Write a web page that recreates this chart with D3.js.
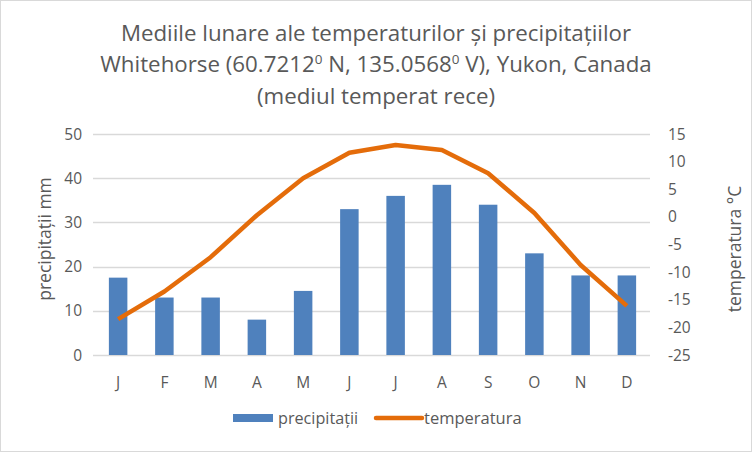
<!DOCTYPE html>
<html><head><meta charset="utf-8">
<script src="https://cdn.jsdelivr.net/npm/d3@7"></script>
<style>body{margin:0;background:#fff}svg{display:block}text{font-family:"Open Sans","Liberation Sans",Arial,sans-serif;fill:#595959}</style>
</head><body>
<script>
const months = ["J","F","M","A","M","J","J","A","S","O","N","D"];
const precipitation = [17.5,13,13,8,14.5,33,36,38.5,34,23,18,18];
const temperature = [-18.5,-13.5,-7.3,0.3,7,11.6,13,12.1,7.9,0.7,-8.7,-16.1];
const precTicks = [0,10,20,30,40,50];
const tempTicks = [15,10,5,0,-5,-10,-15,-20,-25];

const W=752,H=452;
const svg=d3.select("body").append("svg").attr("width",W).attr("height",H);
svg.append("rect").attr("x",0.5).attr("y",0.5).attr("width",W-1).attr("height",H-1).attr("fill","#fff").attr("stroke","#d9d9d9");

const L=95,R=650,T=134,B=355;
const x=d3.scaleBand().domain(d3.range(12)).range([L,R]).padding(0);
const yP=d3.scaleLinear().domain([0,50]).range([B,T]);
const yT=d3.scaleLinear().domain([-25,15]).range([B,T]);

// title
const title=svg.append("text").attr("text-anchor","middle").attr("font-size",22.3);
title.append("tspan").attr("x",376).attr("y",41).text("Mediile lunare ale temperaturilor și precipitațiilor");
const l2=title.append("tspan").attr("x",376).attr("y",72);
l2.append("tspan").text("Whitehorse (60.7212");
l2.append("tspan").attr("font-size",13.5).attr("dy",-8.5).text("0");
l2.append("tspan").attr("dy",8.5).text(" N, 135.0568");
l2.append("tspan").attr("font-size",13.5).attr("dy",-8.5).text("0");
l2.append("tspan").attr("dy",8.5).text(" V), Yukon, Canada");
title.append("tspan").attr("x",376).attr("y",104).text("(mediul temperat rece)");

// gridlines
svg.append("g").selectAll("line").data(precTicks).join("line")
  .attr("x1",L-2).attr("x2",R).attr("y1",d=>Math.round(yP(d))+0.5).attr("y2",d=>Math.round(yP(d))+0.5)
  .attr("stroke","#d9d9d9").attr("stroke-width",1.3);

// left axis labels
svg.append("g").selectAll("text").data(precTicks).join("text")
  .attr("x",82).attr("y",d=>yP(d)+5.5).attr("text-anchor","end").attr("font-size",15.5).text(d=>d);
// right axis labels
svg.append("g").selectAll("text").data(tempTicks).join("text")
  .attr("x",668).attr("y",d=>yT(d)+5.5).attr("text-anchor","start").attr("font-size",15.5).text(d=>d);
// x labels
svg.append("g").selectAll("text").data(months).join("text")
  .attr("x",(d,i)=>x(i)+x.bandwidth()/2).attr("y",388).attr("text-anchor","middle").attr("font-size",15.5).text(d=>d);

// axis titles
svg.append("text").attr("transform","translate(51,239) rotate(-90)").attr("text-anchor","middle").attr("font-size",17.5).text("precipitații  mm");
svg.append("text").attr("transform","translate(741,249) rotate(-90)").attr("text-anchor","middle").attr("font-size",17.5).text("temperatura °C");

// bars
const bw=x.bandwidth()*0.4;
svg.append("g").selectAll("rect").data(precipitation).join("rect")
  .attr("x",(d,i)=>x(i)+x.bandwidth()/2-bw/2).attr("width",bw)
  .attr("y",d=>yP(d)).attr("height",d=>yP(0)-yP(d)).attr("fill","#4F81BD");

// line
const line=d3.line().x((d,i)=>x(i)+x.bandwidth()/2).y(d=>yT(d));
svg.append("path").datum(temperature).attr("d",line).attr("fill","none")
  .attr("stroke","#E46C0A").attr("stroke-width",4.5).attr("stroke-linejoin","round");

// legend
svg.append("rect").attr("x",233).attr("y",414).attr("width",40).attr("height",8).attr("fill","#4F81BD");
svg.append("text").attr("x",278).attr("y",424).attr("font-size",16.2).text("precipitații");
svg.append("line").attr("x1",376).attr("x2",422).attr("y1",418).attr("y2",418).attr("stroke","#E46C0A").attr("stroke-width",4.5).attr("stroke-linecap","round");
svg.append("text").attr("x",424).attr("y",424).attr("font-size",16.5).text("temperatura");
</script>
</body></html>
